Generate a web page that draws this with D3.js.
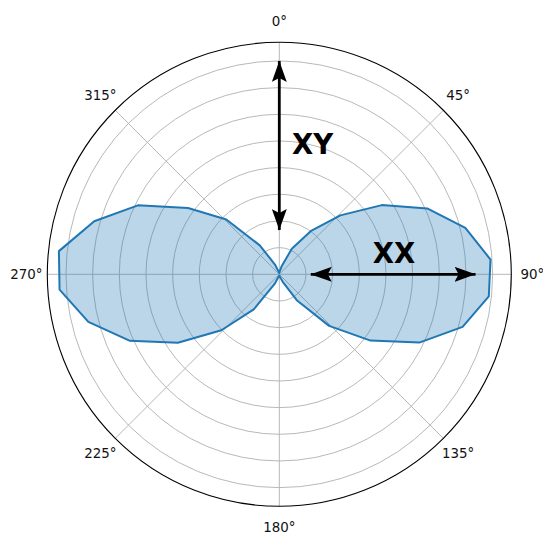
<!DOCTYPE html>
<html>
<head>
<meta charset="utf-8">
<script src="https://cdn.jsdelivr.net/npm/d3@7"></script>
<style>
  body { margin: 0; background: #fff; }
  text { font-family: "DejaVu Sans", sans-serif; }
</style>
</head>
<body>
<script>
// angles in degrees (0 = up, clockwise), radius values in grid units
var angles = [6, 16, 26, 36, 46, 56, 66, 76, 86, 96, 106, 116, 126, 136, 146, 156, 166, 176,
              186, 196, 206, 216, 226, 236, 246, 256, 266, 276, 286, 296, 306, 316, 326, 336, 346, 356];
var values = [0.1, 0.3, 1.07, 2.0, 3.18, 4.64, 6.07, 7.19, 7.94, 7.9, 7.15, 5.84, 4.23, 2.69, 1.17, 0.3, 0.1, 0.05,
              0.05, 0.1, 0.4, 1.63, 3.02, 4.59, 6.13, 7.38, 8.26, 8.31, 7.22, 5.9, 4.23, 2.86, 1.31, 0.4, 0.1, 0.05];
var rTicks = [1, 2, 3, 4, 5, 6, 7, 8];
var thetaTicks = [0, 45, 90, 135, 180, 225, 270, 315];
var rMax = 8.7;

// arrows: angle, start radius, end radius, label
var arrowAngles = [0, 90];
var arrowFrom = [1.66, 1.18];
var arrowTo = [8.0, 7.36];
var arrowLabels = ["XY", "XX"];

var width = 543, height = 533;
var cx = 279.3, cy = 274.3, R = 232;

var svg = d3.select('body').append('svg')
    .attr('width', width)
    .attr('height', height);

var r = d3.scaleLinear().domain([0, rMax]).range([0, R]);
var rad = function(deg){ return deg * Math.PI / 180; };

var g = svg.append('g').attr('transform', 'translate(' + cx + ',' + cy + ')');

// grid rings
g.selectAll('.ring').data(rTicks).enter().append('circle')
    .attr('class', 'ring')
    .attr('r', function(d){ return r(d); })
    .attr('fill', 'none')
    .attr('stroke', '#b0b0b0')
    .attr('stroke-width', 0.9);

// spokes
g.selectAll('.spoke').data(thetaTicks).enter().append('line')
    .attr('x1', 0).attr('y1', 0)
    .attr('x2', function(d){ return r(rMax) * Math.sin(rad(d)); })
    .attr('y2', function(d){ return -r(rMax) * Math.cos(rad(d)); })
    .attr('stroke', '#b0b0b0')
    .attr('stroke-width', 0.9);

// data polygon
var pts = angles.map(function(a, i){ return [rad(a), values[i]]; });
var radial = d3.lineRadial()
    .angle(function(d){ return d[0]; })
    .radius(function(d){ return r(d[1]); })
    .curve(d3.curveLinearClosed);

g.append('path')
    .attr('d', radial(pts))
    .attr('fill', 'rgba(31,119,180,0.3)')
    .attr('stroke', 'none');
g.append('path')
    .attr('d', radial(pts))
    .attr('fill', 'none')
    .attr('stroke', '#1f77b4')
    .attr('stroke-width', 2)
    .attr('stroke-linejoin', 'round');

// outer frame
g.append('circle')
    .attr('r', r(rMax))
    .attr('fill', 'none')
    .attr('stroke', '#000')
    .attr('stroke-width', 1.1);

// theta labels
g.selectAll('.tlab').data(thetaTicks).enter().append('text')
    .attr('x', function(d){ return (R + 21) * Math.sin(rad(d)); })
    .attr('y', function(d){ return -(R + 21) * Math.cos(rad(d)); })
    .attr('text-anchor', 'middle')
    .attr('dominant-baseline', 'central')
    .attr('font-size', 13.4)
    .attr('fill', '#111')
    .text(function(d){ return d + '°'; });

// arrow heads
var defs = svg.append('defs');
defs.append('marker')
    .attr('id', 'head')
    .attr('markerUnits', 'userSpaceOnUse')
    .attr('viewBox', '0 0 21 15')
    .attr('refX', 21).attr('refY', 7.5)
    .attr('markerWidth', 21).attr('markerHeight', 15)
    .attr('orient', 'auto-start-reverse')
    .append('path')
    .attr('d', 'M0,0 L21,7.5 L0,15 L4,7.5 Z')
    .attr('fill', '#000');

arrowAngles.forEach(function(a, i){
    var s = Math.sin(rad(a)), c = Math.cos(rad(a));
    g.append('line')
        .attr('x1', r(arrowFrom[i]) * s).attr('y1', -r(arrowFrom[i]) * c)
        .attr('x2', r(arrowTo[i]) * s).attr('y2', -r(arrowTo[i]) * c)
        .attr('stroke', '#000')
        .attr('stroke-width', 2.8)
        .attr('marker-start', 'url(#head)')
        .attr('marker-end', 'url(#head)');
});

// labels for arrows
var labelX = [312.5, 394];
var labelY = [143.5, 252.5];
arrowLabels.forEach(function(t, i){
    svg.append('text')
        .attr('x', labelX[i]).attr('y', labelY[i])
        .attr('text-anchor', 'middle')
        .attr('dominant-baseline', 'central')
        .attr('font-size', 27.5)
        .attr('font-weight', 'bold')
        .attr('fill', '#000')
        .text(t);
});
</script>
</body>
</html>
